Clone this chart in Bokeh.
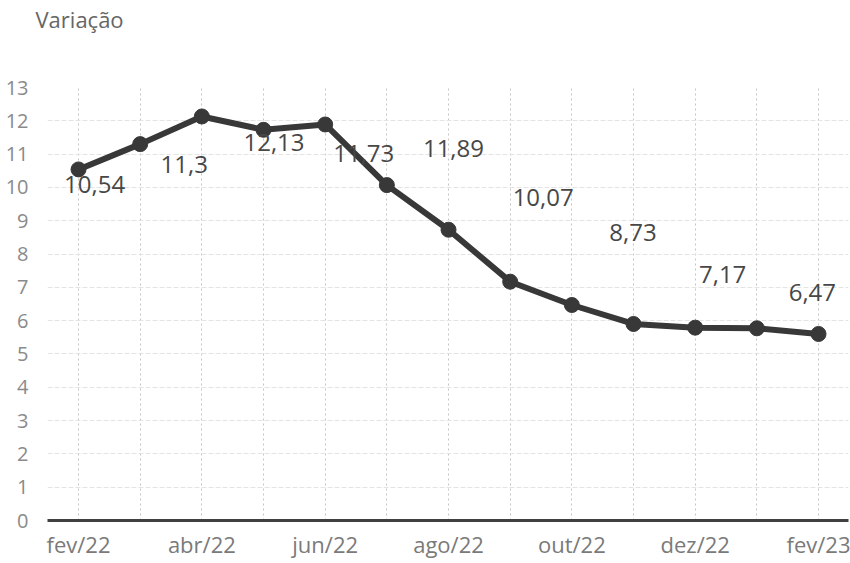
from bokeh.plotting import figure
from bokeh.models import ColumnDataSource, FixedTicker, Range1d, Title
from bokeh.core.properties import value
from bokeh.embed import file_html
from bokeh.resources import INLINE

months = ["fev/22", "mar/22", "abr/22", "mai/22", "jun/22", "jul/22", "ago/22",
          "set/22", "out/22", "nov/22", "dez/22", "jan/23", "fev/23"]
variacao = [10.54, 11.30, 12.13, 11.73, 11.89, 10.07, 8.73, 7.17, 6.47, 5.90, 5.79, 5.77, 5.60]
label_values = [10.54, 11.3, 12.13, 11.73, 11.89, 10.07, 8.73, 7.17, 6.47]
y_ticks = list(range(0, 14))
x_tick_idx = [0, 2, 4, 6, 8, 10, 12]

FONT = "Open Sans"
idx = list(range(len(months)))

X0, X1 = -0.503, 12.486
Y0, Y1 = 0, 13
# labels in the original sit on a differently scaled coordinate system
LX_A, LX_B = 1.455, 0.26
LY_A, LY_B = 0.797, 1.68

p = figure(width=850, height=563, output_backend="svg", toolbar_location=None,
           x_range=Range1d(X0, X1), y_range=Range1d(Y0, Y1),
           min_border_left=47, min_border_right=2, min_border_bottom=43, min_border_top=87,
           background_fill_color="white", border_fill_color="white")
p.outline_line_color = None
p.extra_x_ranges = {"lx": Range1d((X0 - LX_B) / LX_A, (X1 - LX_B) / LX_A)}
p.extra_y_ranges = {"ly": Range1d((Y0 - LY_B) / LY_A, (Y1 - LY_B) / LY_A)}

# white-on-white spacer panel next to the plot area, then the visible title further out
p.add_layout(Title(text="x", text_font=FONT, text_font_size="22px", text_color="white",
                   standoff=20), "above")
p.add_layout(Title(text="Variação", text_font=FONT, text_font_size="22px",
                   text_font_style="normal", text_color="#666666", align="left",
                   vertical_align="top", offset=-12, standoff=0), "above")

# axes
p.xaxis.ticker = FixedTicker(ticks=x_tick_idx)
p.xaxis.major_label_overrides = {i: months[i] for i in x_tick_idx}
p.xaxis.axis_line_color = "#404040"
p.xaxis.axis_line_width = 3
p.xaxis.major_tick_line_color = None
p.xaxis.minor_tick_line_color = None
p.xaxis.major_tick_out = 0
p.xaxis.major_tick_in = 0
p.xaxis.major_label_text_font = FONT
p.xaxis.major_label_text_font_size = "22px"
p.xaxis.major_label_text_line_height = 1.0
p.xaxis.major_label_text_color = "#7a7a7a"
p.xaxis.major_label_standoff = 8

p.yaxis.ticker = FixedTicker(ticks=y_ticks)
p.yaxis.axis_line_color = None
p.yaxis.major_tick_line_color = None
p.yaxis.minor_tick_line_color = None
p.yaxis.major_tick_out = 0
p.yaxis.major_tick_in = 0
p.yaxis.major_label_text_font = FONT
p.yaxis.major_label_text_font_size = "20px"
p.yaxis.major_label_text_color = "#8a8a8a"
p.yaxis.major_label_standoff = 19

# grids
p.xgrid.ticker = FixedTicker(ticks=idx)
p.xgrid.grid_line_color = "#c4c4c4"
p.xgrid.grid_line_dash = "2 3"
p.xgrid.grid_line_width = 1
p.ygrid.ticker = FixedTicker(ticks=y_ticks)
p.ygrid.grid_line_color = "#e4e4e4"
p.ygrid.grid_line_dash = "5 2"
p.ygrid.grid_line_width = 1

src = ColumnDataSource(dict(x=idx, y=variacao))
p.line("x", "y", source=src, line_color="#383838", line_width=6, line_join="round")
p.scatter("x", "y", source=src, size=15, fill_color="#383838", line_color="#383838")

lsrc = ColumnDataSource(dict(x=list(range(len(label_values))), y=label_values,
                             t=[f"{v:g}".replace(".", ",") for v in label_values]))
p.text("x", "y", text="t", source=lsrc, x_range_name="lx", y_range_name="ly",
       text_font=value(FONT), text_font_size="24px", text_color="#474747",
       text_align="center", text_baseline="middle")

open("out.html", "w").write(file_html(p, INLINE))
